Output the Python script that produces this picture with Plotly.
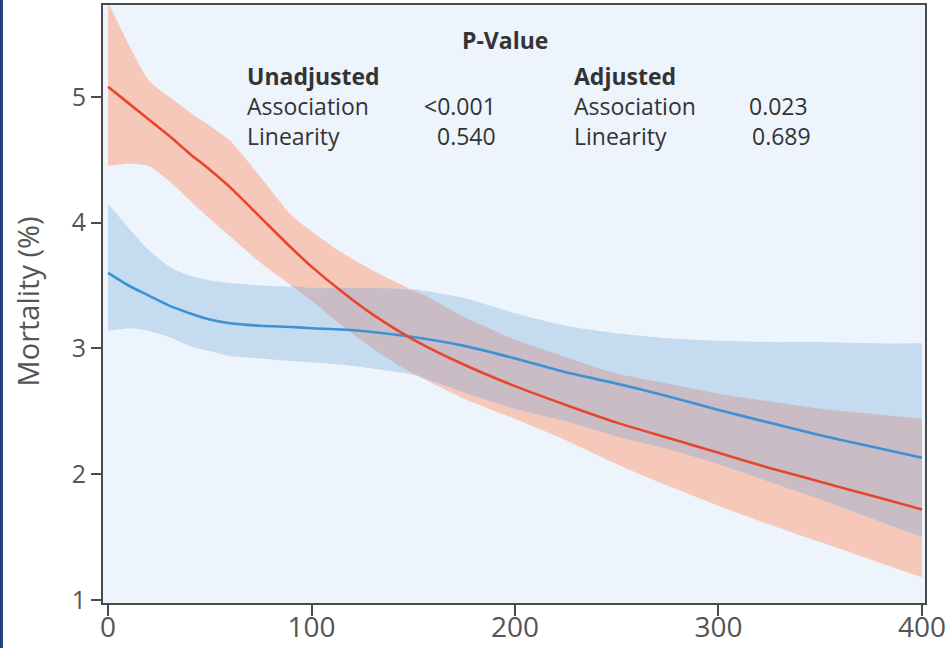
import numpy as np
import plotly.graph_objects as go

# ---- data ----
x_vals = [0, 10, 20, 30, 40, 50, 60, 75, 90, 100, 115, 130, 150, 175, 200, 225, 250, 275, 300, 325, 350, 375, 400]

red_mid = [5.08, 4.95, 4.82, 4.69, 4.55, 4.42, 4.28, 4.04, 3.80, 3.65, 3.45, 3.27, 3.07, 2.87, 2.70, 2.55, 2.41, 2.29, 2.17, 2.05, 1.94, 1.83, 1.72]
red_hi = [5.75, 5.42, 5.13, 5.00, 4.88, 4.77, 4.65, 4.36, 4.06, 3.93, 3.76, 3.62, 3.46, 3.25, 3.07, 2.93, 2.80, 2.72, 2.64, 2.58, 2.52, 2.48, 2.44]
red_lo = [4.45, 4.47, 4.45, 4.33, 4.18, 4.03, 3.89, 3.68, 3.50, 3.38, 3.18, 3.00, 2.80, 2.60, 2.44, 2.27, 2.08, 1.91, 1.75, 1.60, 1.46, 1.32, 1.18]

blue_mid = [3.60, 3.50, 3.42, 3.34, 3.28, 3.23, 3.20, 3.18, 3.17, 3.16, 3.15, 3.13, 3.09, 3.02, 2.92, 2.81, 2.72, 2.62, 2.51, 2.41, 2.31, 2.22, 2.13]
blue_hi = [4.15, 3.96, 3.78, 3.65, 3.58, 3.54, 3.52, 3.50, 3.49, 3.48, 3.48, 3.48, 3.47, 3.40, 3.28, 3.18, 3.12, 3.08, 3.06, 3.05, 3.05, 3.04, 3.04]
blue_lo = [3.14, 3.16, 3.14, 3.09, 3.02, 2.98, 2.94, 2.92, 2.90, 2.89, 2.87, 2.84, 2.79, 2.65, 2.52, 2.42, 2.30, 2.20, 2.08, 1.94, 1.80, 1.65, 1.50]

x_ticks = [0, 100, 200, 300, 400]
y_ticks = [1, 2, 3, 4, 5]

# ---- styles ----
RED_LINE = "#E8462C"
BLUE_LINE = "#3C92D3"
RED_BAND = "#F5C8BA"
BLUE_BAND = "#C5DBF0"
OVERLAP = "#C9BCC5"
TXT = "#333333"
AX = "#4a4a4a"
FONT = "Open Sans"

x = np.array(x_vals)
rl, rh = np.array(red_lo), np.array(red_hi)
bl, bh = np.array(blue_lo), np.array(blue_hi)
ov_lo = np.maximum(rl, bl)
ov_hi = np.minimum(rh, bh)
mask = ov_hi >= ov_lo - 0.02
ov_x = x[mask]
ov_lo_m = ov_lo[mask]
ov_hi_m = np.maximum(ov_hi[mask], ov_lo_m)

fig = go.Figure()

def band(xx, lo, hi, color):
    fig.add_trace(go.Scatter(x=xx, y=lo, mode="lines", line=dict(width=0, color=color, shape="spline", smoothing=0.6),
                             showlegend=False, hoverinfo="skip"))
    fig.add_trace(go.Scatter(x=xx, y=hi, mode="lines", line=dict(width=0, color=color, shape="spline", smoothing=0.6),
                             fill="tonexty", fillcolor=color, showlegend=False, hoverinfo="skip"))

band(x_vals, red_lo, red_hi, RED_BAND)
band(x_vals, blue_lo, blue_hi, BLUE_BAND)
band(ov_x.tolist(), ov_lo_m.tolist(), ov_hi_m.tolist(), OVERLAP)

fig.add_trace(go.Scatter(x=x_vals, y=blue_mid, mode="lines",
                         line=dict(color=BLUE_LINE, width=2.6, shape="spline", smoothing=0.6), showlegend=False))
fig.add_trace(go.Scatter(x=x_vals, y=red_mid, mode="lines",
                         line=dict(color=RED_LINE, width=2.6, shape="spline", smoothing=0.6), showlegend=False))

# ---- annotations ----
ann = []
def txt(s, xp, yp, anchor="left", bold=False):
    ann.append(dict(text=("<b>%s</b>" % s) if bold else s, x=xp, y=yp, xref="paper", yref="paper",
                    xanchor=anchor, yanchor="middle", showarrow=False,
                    font=dict(family=FONT, size=23, color=TXT)))

txt("P-Value", 0.489, 0.9415, anchor="center", bold=True)
txt("Unadjusted", 0.173, 0.881, bold=True)
txt("Association", 0.173, 0.831)
txt("Linearity", 0.173, 0.781)
txt("&lt;0.001", 0.480, 0.831, anchor="right")
txt("0.540", 0.480, 0.781, anchor="right")
txt("Adjusted", 0.571, 0.881, bold=True)
txt("Association", 0.571, 0.831)
txt("Linearity", 0.571, 0.781)
txt("0.023", 0.860, 0.831, anchor="right")
txt("0.689", 0.864, 0.781, anchor="right")

ann.append(dict(text="Mortality (%)", x=-0.092, y=0.505, xref="paper", yref="paper", textangle=-90,
                xanchor="center", yanchor="middle", showarrow=False,
                font=dict(family=FONT, size=29, color="#555555")))

fig.update_layout(
    width=946, height=648,
    margin=dict(l=103, r=21, t=5, b=45, autoexpand=False),
    paper_bgcolor="white",
    plot_bgcolor="#EDF4FC",
    annotations=ann,
    shapes=[dict(type="rect", xref="paper", yref="paper", x0=-0.1253, x1=-0.1217, y0=-0.1, y1=1.1,
                 fillcolor="#23407A", line=dict(width=0), layer="above")],
    font=dict(family=FONT),
)
fig.update_xaxes(range=[-2.5, 401.5], tickvals=x_ticks, ticktext=[str(v) for v in x_ticks],
                 showgrid=False, zeroline=False, showline=True, linecolor=AX, linewidth=2, mirror=True,
                 ticks="outside", ticklen=11, tickwidth=2, tickcolor=AX, automargin=False,
                 ticklabeloverflow="allow", ticklabelstandoff=-13,
                 tickfont=dict(family=FONT, size=28, color="#555555"))
fig.update_yaxes(range=[0.976, 5.73], tickvals=y_ticks, ticktext=[str(v) for v in y_ticks],
                 showgrid=False, zeroline=False, showline=True, linecolor=AX, linewidth=2, mirror=True,
                 ticks="outside", ticklen=10, tickwidth=2, tickcolor=AX, automargin=False,
                 tickfont=dict(family=FONT, size=25, color="#555555"))

fig.write_html("out.html", config={"displayModeBar": False},
               post_script="document.body.style.margin='0';")
